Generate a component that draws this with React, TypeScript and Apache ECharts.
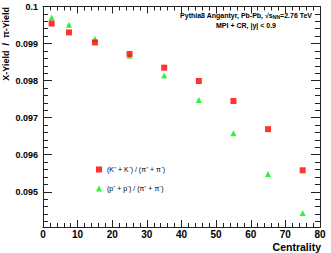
import React, { useEffect, useRef } from "react";
import * as echarts from "echarts";

const centrality = [2.5, 7.5, 15, 25, 35, 45, 55, 65, 75];
const kaonRatio = [0.09954, 0.0993, 0.09903, 0.09872, 0.09835, 0.09799, 0.09745, 0.09669, 0.09558];
const protonRatio = [0.0997, 0.09951, 0.09912, 0.09867, 0.09814, 0.09748, 0.09658, 0.09548, 0.09443];
const yMajorTicks = [0.095, 0.096, 0.097, 0.098, 0.099, 0.1];
const yMinorTicks: number[] = [];
for (let k = 1; k <= 30; k++) {
  const v = +(0.094 + k * 0.0002).toFixed(4);
  if (k % 5 !== 0) yMinorTicks.push(v);
}
const kaonName = "(K\u207A + K\u207B) / (\u03C0\u207A + \u03C0\u207B)";
const protonName = "(p\u207A + p\u207B) / (\u03C0\u207A + \u03C0\u207B)";

const FONT = "'Liberation Sans', Arial, Helvetica, sans-serif";
const AX = "#222";
const Y_MIN = 0.09405;
const Y_MAX = 0.1;

export default function App() {
  const ref = useRef<HTMLDivElement>(null);
  useEffect(() => {
    if (!ref.current) return;
    const chart = echarts.init(ref.current, undefined, { renderer: "svg" });
    const baseY = {
      type: "value" as const,
      min: Y_MIN,
      max: Y_MAX,
      splitLine: { show: false },
      axisLine: { show: true, lineStyle: { color: AX, width: 1 } },
    };
    const baseX = {
      type: "value" as const,
      min: 0,
      max: 80,
      interval: 10,
      splitLine: { show: false },
      axisLine: { show: true, onZero: false, lineStyle: { color: AX, width: 1 } },
      axisTick: { show: true, inside: true, length: 7, lineStyle: { color: AX } },
      minorTick: { show: true, splitNumber: 5, length: 4, lineStyle: { color: AX } },
    };
    chart.setOption({
      animation: false,
      grid: { left: 43, right: 11, top: 6.5, bottom: 26 },
      xAxis: [
        {
          ...baseX,
          position: "bottom",
          axisLabel: {
            show: true,
            margin: 2,
            lineHeight: 10,
            fontFamily: FONT,
            fontWeight: "bold",
            fontSize: 10,
            color: "#000",
          },
        },
        { ...baseX, position: "top", axisLabel: { show: false } },
      ],
      yAxis: [
        {
          ...baseY,
          position: "left",
          axisTick: { show: true, inside: true, length: 9, customValues: yMajorTicks, lineStyle: { color: AX } },
          axisLabel: {
            show: true,
            customValues: yMajorTicks,
            margin: 5,
            fontFamily: FONT,
            fontWeight: "bold",
            fontSize: 9,
            color: "#000",
            formatter: (v: number) => String(+v.toFixed(4)),
          },
        },
        {
          ...baseY,
          position: "left",
          axisTick: { show: true, inside: true, length: 5, customValues: yMinorTicks, lineStyle: { color: AX } },
          axisLabel: { show: false },
        },
        {
          ...baseY,
          position: "right",
          axisTick: { show: true, inside: true, length: 9, customValues: yMajorTicks, lineStyle: { color: AX } },
          axisLabel: { show: false },
        },
        {
          ...baseY,
          position: "right",
          axisTick: { show: true, inside: true, length: 5, customValues: yMinorTicks, lineStyle: { color: AX } },
          axisLabel: { show: false },
        },
      ],
      legend: {
        orient: "vertical",
        left: 91,
        top: 161,
        itemWidth: 6,
        itemHeight: 6,
        itemGap: 12,
        data: [kaonName, protonName],
        textStyle: { fontFamily: FONT, fontSize: 7, color: "#000", padding: [0, 0, 0, 0] },
      },
      series: [
        {
          name: kaonName,
          type: "scatter",
          symbol: "rect",
          symbolSize: 6,
          z: 3,
          itemStyle: { color: "#ff0000" },
          data: centrality.map((c, i) => [c, kaonRatio[i]]),
        },
        {
          name: protonName,
          type: "scatter",
          symbol: "triangle",
          symbolSize: 6,
          z: 2,
          itemStyle: { color: "#00ee00" },
          data: centrality.map((c, i) => [c, protonRatio[i]]),
        },
      ],
      graphic: [
        {
          type: "text",
          x: 6,
          y: 7,
          rotation: Math.PI / 2,
          style: {
            text: "X-Yield  /  \u03C0-Yield",
            fontFamily: FONT,
            fontWeight: "bold",
            fontSize: 9,
            fill: "#000",
            align: "right",
            verticalAlign: "middle",
          },
        },
        {
          type: "text",
          x: 321,
          y: 246.5,
          style: {
            text: "Centrality",
            fontFamily: FONT,
            fontWeight: "bold",
            fontSize: 10.5,
            lineHeight: 11,
            fill: "#000",
            align: "right",
            verticalAlign: "middle",
          },
        },
        {
          type: "text",
          x: 246,
          y: 15,
          style: {
            text: "{a|Pythia8 Angantyr, Pb-Pb, \u221As}{s|NN}{a|=2.76 TeV}",
            align: "center",
            verticalAlign: "middle",
            rich: {
              a: { fontFamily: FONT, fontWeight: "bold", fontSize: 7, fill: "#000" },
              s: { fontFamily: FONT, fontWeight: "bold", fontSize: 5, fill: "#000", padding: [4, 0, 0, 0] },
            },
          },
        },
        {
          type: "text",
          x: 246,
          y: 25,
          style: {
            text: "MPI + CR, |y| < 0.9",
            fontFamily: FONT,
            fontWeight: "bold",
            fontSize: 7,
            fill: "#000",
            align: "center",
            verticalAlign: "middle",
          },
        },
      ],
    });
    return () => chart.dispose();
  }, []);
  return (
    <div
      ref={ref}
      style={{ position: "fixed", left: 0, top: 0, width: 331, height: 253, background: "#fff" }}
    />
  );
}
